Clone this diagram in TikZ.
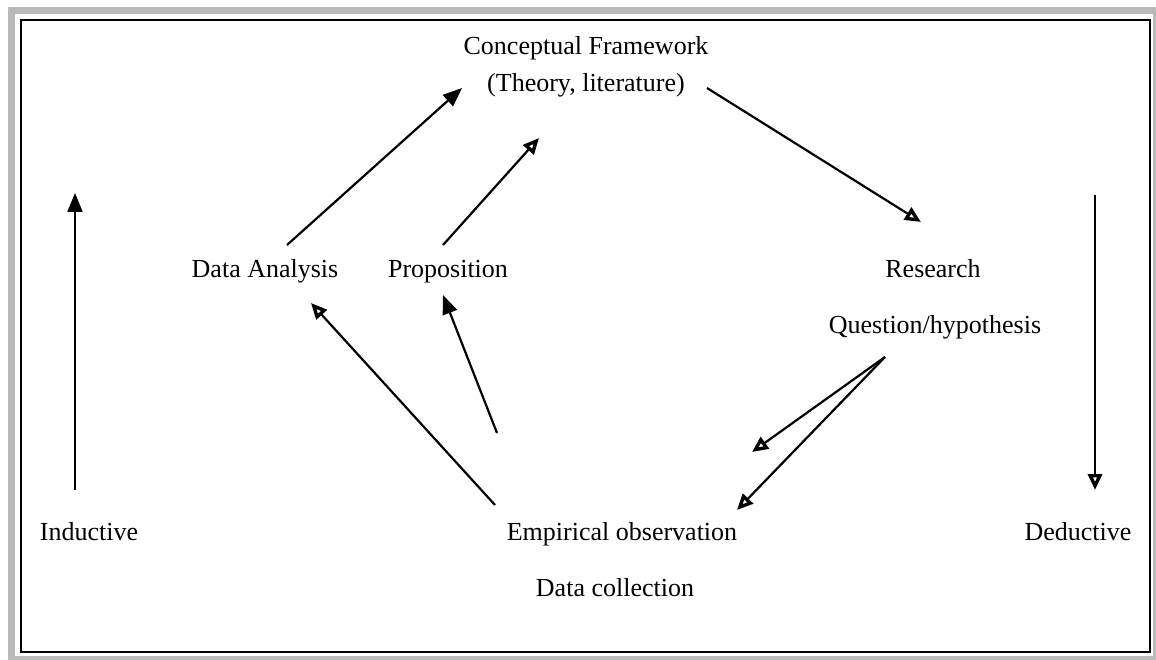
\documentclass[tikz,border=0pt]{standalone}
\usepackage{fontspec}
\setmainfont{Liberation Serif}
\usetikzlibrary{arrows.meta,calc}
\tikzset{
  lbl/.style={inner sep=0pt, anchor=base, font=\fontsize{26}{31}\selectfont},
  conn/.style={line width=2.2pt, black},
  fullhead/.style={-{Triangle[length=19pt,width=15pt]}},
  openhead/.style={-{Triangle[open,length=16pt,width=14pt,line width=3.4pt]}},
}
\begin{document}
\begin{tikzpicture}[x=1pt,y=-1pt]
\useasboundingbox (0,0) rectangle (1156,660);
% frame
\draw[gray!55, line width=7pt] (11.5,11) rectangle (1156.5,659);
\draw[black, line width=2pt] (21,20) rectangle (1150,652);
% nodes
\node[lbl] (cf1) at (586,55) {Conceptual Framework};
\node[lbl] (cf2) at (586,92) {(Theory, literature)};
\node[lbl] (da) at (265,277) {Data Analysis};
\node[lbl] (prop) at (448,277) {Proposition};
\node[lbl] (res) at (933,277) {Research};
\node[lbl] (qh) at (935,333) {Question/hypothesis};
\node[lbl] (ind) at (89,540) {Inductive};
\node[lbl] (emp) at (622,540) {Empirical observation};
\node[lbl] (ded) at (1078,540) {Deductive};
\node[lbl] (dc) at (615,596) {Data collection};
% free ends
\coordinate (propfoot) at ($(emp.base)+(-125,-107)$);
\coordinate (qhend1) at ($(emp.base)+(130,-88)$);
\coordinate (qhend2) at ($(emp.base)+(115,-30)$);
\coordinate (indtop) at ($(ind.base)+(-14,-347)$);
\coordinate (indbot) at ($(ind.base)+(-14,-50)$);
\coordinate (dedtop) at ($(ded.base)+(17,-345)$);
\coordinate (dedbot) at ($(ded.base)+(17,-50)$);
% connectors
\draw[conn,fullhead] ($(da.base)+(22,-32)$) -- ($(cf2.base)+(-124,-4)$);
\draw[conn,openhead] ($(prop.base)+(-5,-32)$) -- ($(cf2.base)+(-47,46)$);
\draw[conn,openhead] ($(cf2.base)+(121,-4)$) -- ($(res.base)+(-12,-55)$);
\draw[conn,openhead] ($(emp.base)+(-127,-35)$) -- ($(da.base)+(46,26)$);
\draw[conn,fullhead] (propfoot) -- ($(prop.base)+(-5,18)$);
\draw[conn,openhead] ($(qh.base)+(-50,24)$) -- (qhend1);
\draw[conn,openhead] ($(qh.base)+(-50,24)$) -- (qhend2);
\draw[conn,fullhead] (indbot) -- (indtop);
\draw[conn,openhead,line width=1.7pt] (dedtop) -- (dedbot);
\end{tikzpicture}
\end{document}
